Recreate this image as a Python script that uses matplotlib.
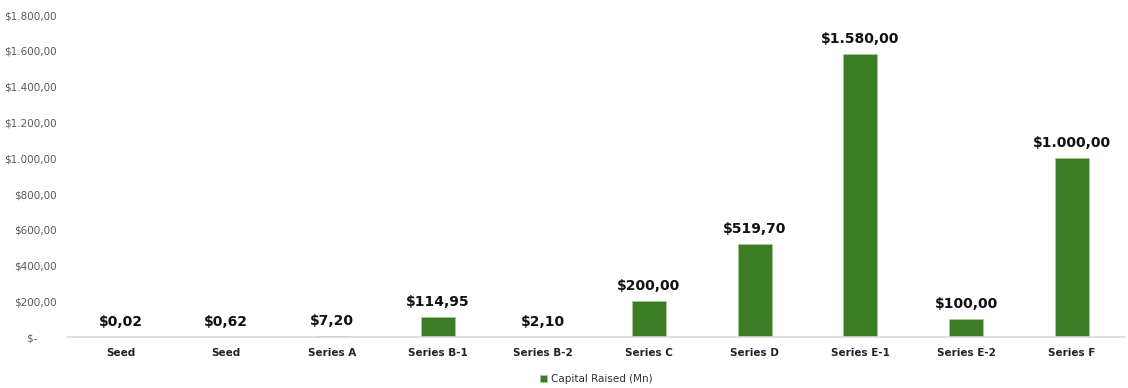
import matplotlib
matplotlib.use("Agg")
import matplotlib.pyplot as plt
from matplotlib.ticker import FuncFormatter, MultipleLocator

# funding rounds and capital raised (USD millions)
rounds = ["Seed", "Seed", "Series A", "Series B-1", "Series B-2",
          "Series C", "Series D", "Series E-1", "Series E-2", "Series F"]
raised = [0.02, 0.62, 7.20, 114.95, 2.10, 200.00, 519.70, 1580.00, 100.00, 1000.00]

GREEN = "#3b7d23"


def eur_money(v):
    # 1580.0 -> $1.580,00
    s = f"{v:,.2f}"
    s = s.replace(",", "X").replace(".", ",").replace("X", ".")
    return "$" + s


def tick_fmt(v, pos):
    if abs(v) < 1e-9:
        return "$-      "
    return eur_money(v)


fig = plt.figure(figsize=(11.28, 3.88), dpi=100)
ax = fig.add_axes([0.060, 0.131, 0.937, 0.830])

x = range(len(rounds))
ax.bar(x, raised, width=0.32, color=GREEN, edgecolor="#a9c99a", linewidth=0.6,
       label="Capital Raised (Mn)", zorder=2)

for xi, v in zip(x, raised):
    ax.text(xi, v + 45, eur_money(v), ha="center", va="bottom",
            fontsize=10, fontweight="bold", color="#111111")

ax.set_xlim(-0.5, len(rounds) - 0.5)
ax.set_ylim(0, 1800)
ax.yaxis.set_major_locator(MultipleLocator(200))
ax.yaxis.set_major_formatter(FuncFormatter(tick_fmt))

ax.set_xticks(list(x))
ax.set_xticklabels(rounds, fontsize=7.5, fontweight="bold", color="#222222")
ax.tick_params(axis="x", length=0, pad=8)
ax.tick_params(axis="y", length=0, labelsize=7.5, labelcolor="#595959", pad=8)

for side in ["top", "right", "left"]:
    ax.spines[side].set_visible(False)
ax.spines["bottom"].set_color("#d9d9d9")
ax.spines["bottom"].set_linewidth(1.2)

ax.legend(loc="center", bbox_to_anchor=(0.5, -0.13), frameon=False,
          fontsize=7.5, handlelength=0.7, handleheight=0.7, handletextpad=0.3,
          labelcolor="#333333")

plt.savefig("out.png", dpi=100)
